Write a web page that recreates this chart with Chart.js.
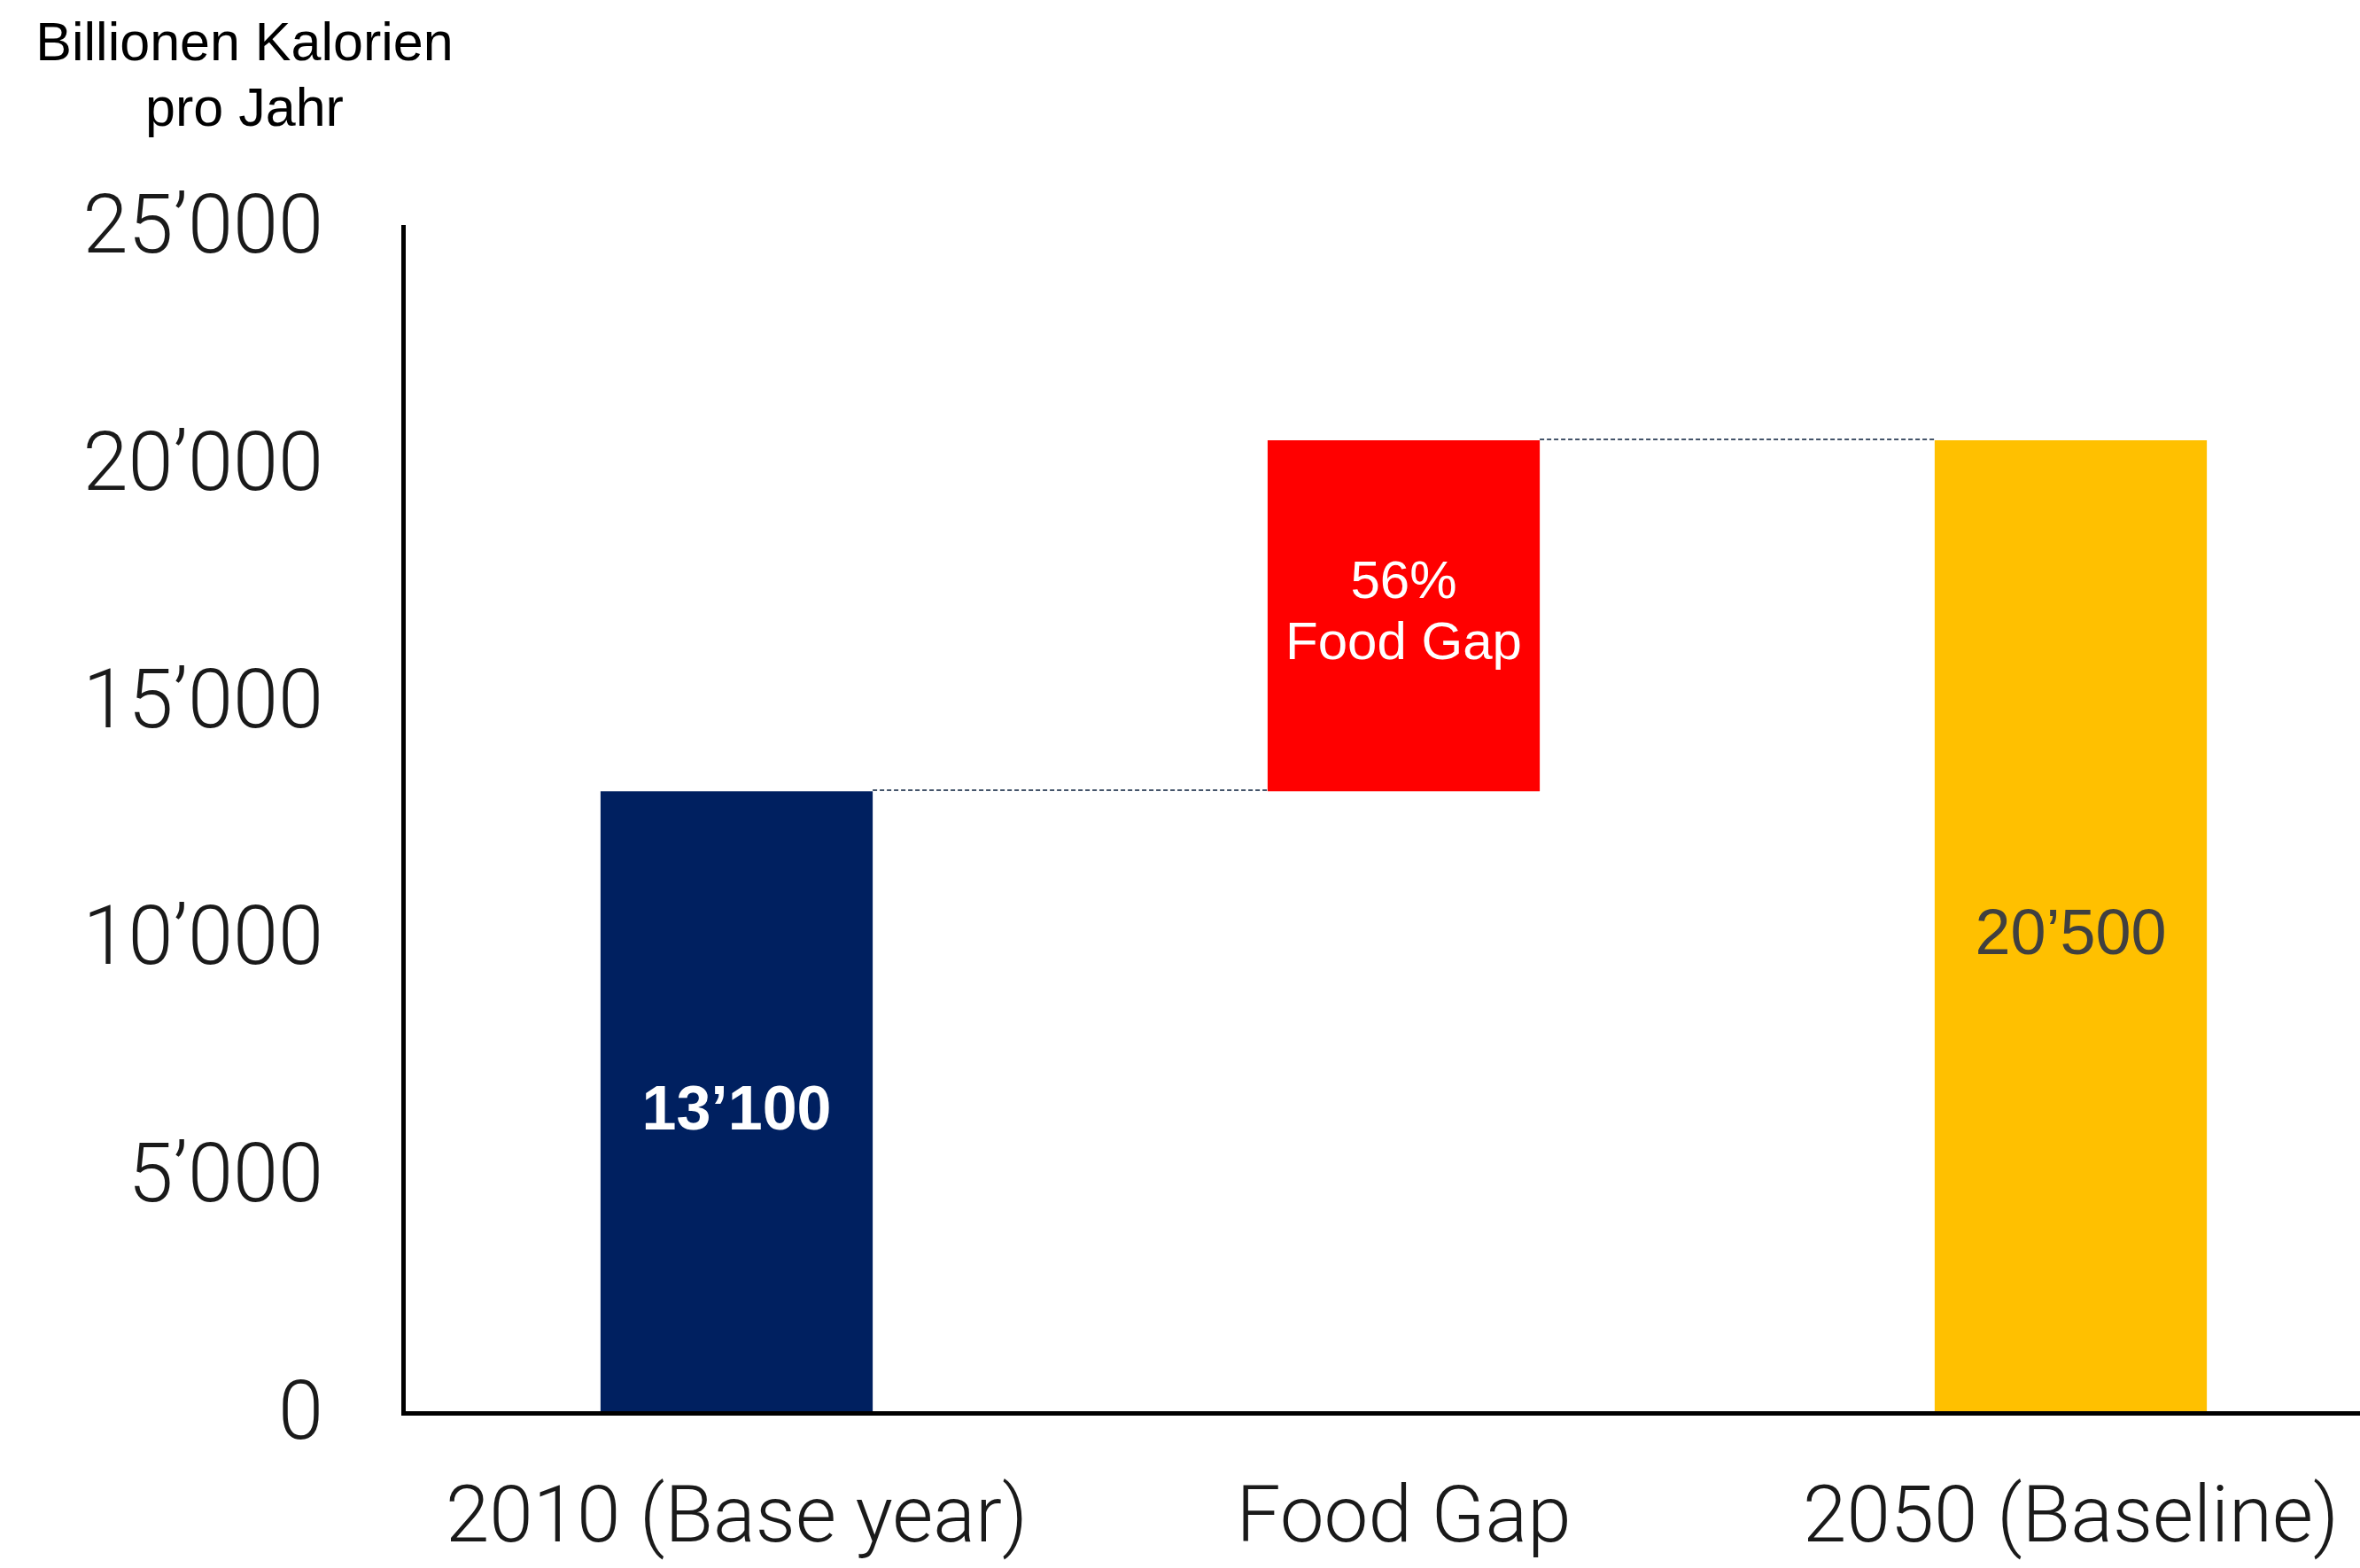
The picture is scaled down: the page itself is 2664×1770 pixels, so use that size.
<!DOCTYPE html>
<html>
<head>
<meta charset="utf-8">
<script src="https://cdn.jsdelivr.net/npm/chart.js@4/dist/chart.umd.min.js"></script>
<style>
  html, body { margin: 0; padding: 0; background: #fff; overflow: hidden; width: 2664px; height: 1770px; }
  #wrap { width: 2714px; height: 1770px; }
  canvas { display: block; }
</style>
</head>
<body>
<div id="wrap"><canvas id="chart" width="2714" height="1770" style="width:2714px;height:1770px"></canvas></div>
<script>
// Waterfall: calories per year, 2010 base, gap, 2050 baseline
const categories = ['2010 (Base year)', 'Food Gap', '2050 (Baseline)'];
const barBase = [0, 13100, 0];
const barTop = [13100, 20500, 20500];
const yTicks = [0, 5000, 10000, 15000, 20000, 25000];
const axisTitle = ['Billionen Kalorien', 'pro Jahr'];
const gapCaption = 'Food Gap';

// thousands separator with typographic apostrophe
function fmt(v) {
  return String(Math.round(v)).replace(/\B(?=(\d{3})+(?!\d))/g, '\u2019');
}

const gapPct = Math.round((barTop[1] - barTop[0]) / barTop[0] * 100);
const barText = [
  [fmt(barTop[0])],
  [gapPct + '%', gapCaption],
  [fmt(barTop[2])]
];

const style = {
  colors: ['#002060', '#FF0000', '#FFC000'],
  textColors: ['#FFFFFF', '#FFFFFF', '#404040'],
  fonts: ['bold 70px "Liberation Sans", Arial, sans-serif',
          '60px "Liberation Sans", Arial, sans-serif',
          '72px "Liberation Sans", Arial, sans-serif'],
  lineGap: 69,
  thinFont: 'Roboto',
  plotLeft: 455,
  plotTop: 256,
  plotBottom: 1595,
  canvasH: 1770
};

const overlay = {
  id: 'overlay',
  afterDatasetsDraw(chart) {
    const ctx = chart.ctx;
    const meta = chart.getDatasetMeta(0);
    const bars = meta.data;

    // dotted connectors between consecutive bars
    ctx.save();
    ctx.strokeStyle = '#44546A';
    ctx.lineWidth = 2;
    ctx.setLineDash([5, 3]);
    for (let i = 0; i < bars.length - 1; i++) {
      const a = bars[i], b = bars[i + 1];
      const y = Math.round(a.y) - 1;
      ctx.beginPath();
      ctx.moveTo(a.x + a.width / 2, y);
      ctx.lineTo(b.x - b.width / 2, y);
      ctx.stroke();
    }
    ctx.restore();

    // value labels inside bars
    ctx.save();
    ctx.textAlign = 'center';
    ctx.textBaseline = 'alphabetic';
    bars.forEach((bar, i) => {
      const lines = barText[i];
      const mid = (bar.y + bar.base) / 2;
      ctx.fillStyle = style.textColors[i];
      ctx.font = style.fonts[i];
      if (lines.length === 1) {
        ctx.fillText(lines[0], bar.x, mid + 31);
      } else {
        ctx.fillText(lines[0], bar.x, mid - 20);
        ctx.fillText(lines[1], bar.x, mid - 20 + style.lineGap);
      }
    });
    ctx.restore();

    // unit caption above the value axis
    ctx.save();
    ctx.fillStyle = '#000';
    ctx.font = '61px "Liberation Sans", Arial, sans-serif';
    ctx.textAlign = 'center';
    ctx.textBaseline = 'alphabetic';
    ctx.fillText(axisTitle[0], 276, 68);
    ctx.fillText(axisTitle[1], 276, 142);
    ctx.restore();
  }
};

new Chart(document.getElementById('chart'), {
  type: 'bar',
  data: {
    labels: categories,
    datasets: [{
      data: barBase.map((b, i) => [b, barTop[i]]),
      backgroundColor: style.colors,
      borderWidth: 0,
      barPercentage: 0.408,
      categoryPercentage: 1.0
    }]
  },
  options: {
    responsive: false,
    animation: false,
    devicePixelRatio: 1,
    layout: { padding: { left: 0, right: 0, top: style.plotTop, bottom: 0 } },
    plugins: { legend: { display: false }, tooltip: { enabled: false }, title: { display: false } },
    scales: {
      x: {
        grid: { display: false, drawTicks: false },
        border: { display: true, color: '#000', width: 5, z: 1 },
        ticks: {
          color: '#1a1a1a',
          padding: 69,
          font: { family: style.thinFont, weight: 300, size: 89, lineHeight: 1.2 }
        },
        afterFit(scale) { scale.height = style.canvasH - style.plotBottom; }
      },
      y: {
        min: yTicks[0],
        max: yTicks[yTicks.length - 1],
        afterBuildTicks(scale) { scale.ticks = yTicks.map(v => ({ value: v })); },
        grid: { display: false, drawTicks: false },
        border: { display: true, color: '#000', width: 5, z: 1 },
        ticks: {
          color: '#1a1a1a',
          padding: 90,
          labelOffset: 6,
          font: { family: style.thinFont, weight: 300, size: 92 },
          callback: v => fmt(v)
        },
        afterFit(scale) { scale.width = style.plotLeft; }
      }
    }
  },
  plugins: [overlay]
});
</script>
</body>
</html>
